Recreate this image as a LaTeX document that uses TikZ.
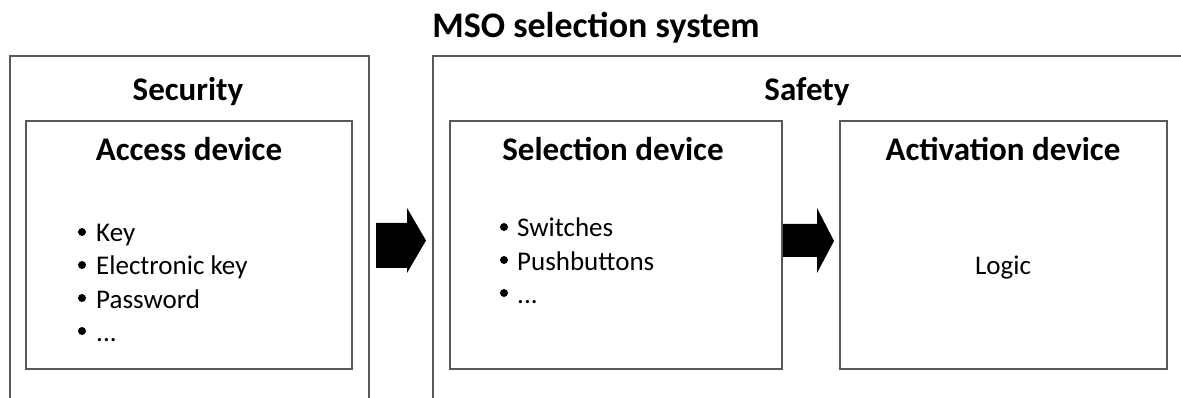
\documentclass[tikz,border=0pt]{standalone}
\usepackage{fontspec}
\setmainfont{Carlito}
\begin{document}
\begin{tikzpicture}[x=1pt,y=-1pt,
  box/.style={draw=black!65, line width=1.3pt, rectangle, inner sep=0pt},
  head/.style={font=\fontsize{33}{40}\selectfont\bfseries, inner sep=0pt, anchor=base},
  body/.style={font=\fontsize{27}{33}\selectfont, inner sep=0pt, anchor=base west},
  bul/.style={circle, fill=black, inner sep=0pt, minimum size=8pt},
  blk/.style={fill=black}]
\useasboundingbox (0,0) rectangle (1181,398);
\clip (0,0) rectangle (1181,398);
% outer boxes
\node[box, minimum width=359pt, minimum height=364pt] (security) at (189.5,238) {};
\node[box, minimum width=767pt, minimum height=364pt] (safety) at (816.5,238) {};
% inner boxes
\node[box, minimum width=326pt, minimum height=248pt] (access) at (189,245) {};
\node[box, minimum width=332pt, minimum height=248pt] (selection) at (616,245) {};
\node[box, minimum width=327pt, minimum height=248pt] (activation) at (1003.5,245) {};
% headings
\node[head, font=\fontsize{36}{43}\selectfont\bfseries] (title) at (596,38) {MSO selection system};
\node[head] (seclbl) at (188,101) {Security};
\node[head] (saflbl) at (807,101) {Safety};
\node[head] (acclbl) at (189,161) {Access device};
\node[head] (sellbl) at (613,161) {Selection device};
\node[head] (actlbl) at (1003,161) {Activation device};
% access list
\node[bul] (ab1) at (82,232) {};
\node[body] (a1) at (96,242) {Key};
\node[bul] (ab2) at (82,265) {};
\node[body] (a2) at (96,275) {Electronic key};
\node[bul] (ab3) at (82,298) {};
\node[body] (a3) at (96,308) {Password};
\node[bul] (ab4) at (82,331) {};
\node[body] (a4) at (96,341) {...};
% selection list
\node[bul] (sb1) at (504,227) {};
\node[body] (s1) at (517,237) {Switches};
\node[bul] (sb2) at (504,260) {};
\node[body] (s2) at (517,270) {Pushbuttons};
\node[bul] (sb3) at (504,293) {};
\node[body] (s3) at (517,303) {...};
% logic
\node[body, anchor=base] (logic) at (1003,275) {Logic};
% block arrows
\fill[blk] (376,223) -- (407,223) -- (407,208) -- (426,240.5) -- (407,273) -- (407,268) -- (376,268) -- cycle;
\fill[blk] (783,224) -- (817,224) -- (817,208) -- (834,241) -- (817,273) -- (817,257) -- (783,257) -- cycle;
\end{tikzpicture}
\end{document}
